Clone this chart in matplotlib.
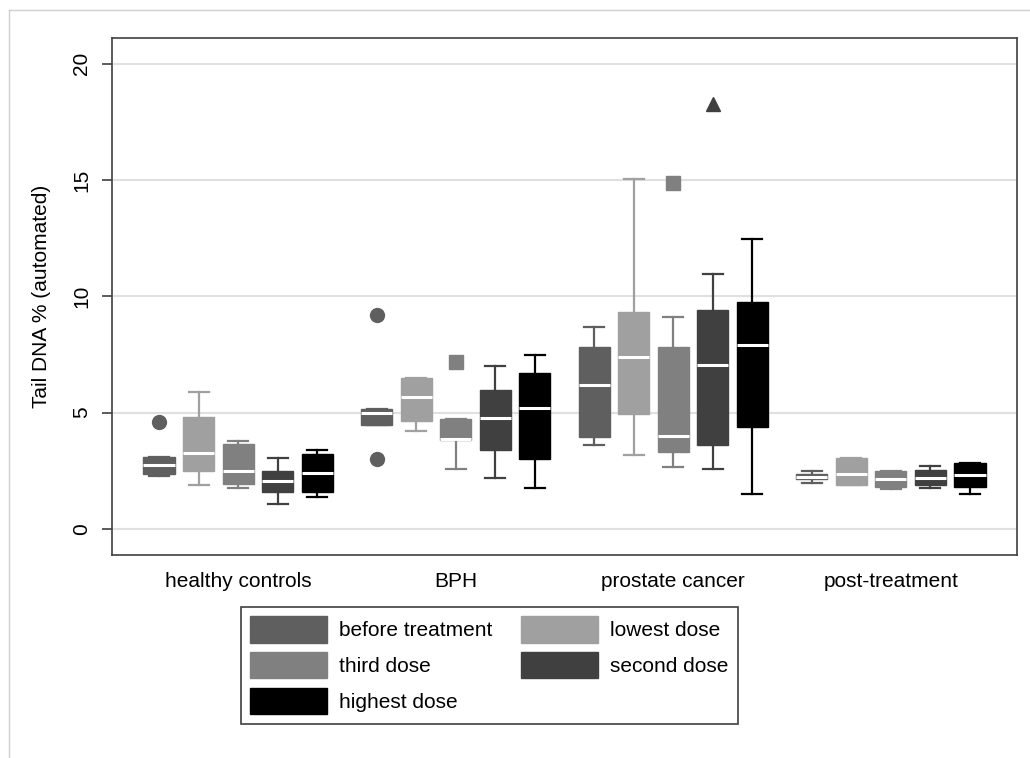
import matplotlib.pyplot as plt
from matplotlib.patches import Patch
from matplotlib.lines import Line2D

plt.rcParams['font.family'] = ['Liberation Sans', 'DejaVu Sans']

# groups on the x axis
groups = ["healthy controls", "BPH", "prostate cancer", "post-treatment"]

# series (dose) names, colours and outlier markers
series = ["before treatment", "lowest dose", "third dose", "second dose", "highest dose"]
colors = ["#5f5f5f", "#a0a0a0", "#808080", "#404040", "#000000"]
markers = ["o", "s", "s", "^", "o"]

# box statistics, one list per series (4 groups each)
before_q1 = [2.36, 4.47, 3.95, 2.13]
before_med = [2.73, 4.97, 6.17, 2.23]
before_q3 = [3.11, 5.16, 7.83, 2.35]
before_lo = [2.28, 4.47, 3.60, 1.99]
before_hi = [3.11, 5.16, 8.67, 2.48]
before_out = [[4.59], [9.21, 3.0], [], []]

lowest_q1 = [2.48, 4.64, 4.93, 1.89]
lowest_med = [3.25, 5.69, 7.41, 2.36]
lowest_q3 = [4.83, 6.48, 9.31, 3.04]
lowest_lo = [1.88, 4.20, 3.17, 1.89]
lowest_hi = [5.87, 6.48, 15.04, 3.04]
lowest_out = [[], [], [], []]

third_q1 = [1.95, 3.82, 3.31, 1.82]
third_med = [2.51, 3.85, 4.01, 2.13]
third_q3 = [3.65, 4.73, 7.83, 2.49]
third_lo = [1.78, 2.58, 2.68, 1.70]
third_hi = [3.77, 4.73, 9.10, 2.49]
third_out = [[], [7.19], [14.87], []]

second_q1 = [1.58, 3.39, 3.61, 1.89]
second_med = [2.08, 4.78, 7.03, 2.21]
second_q3 = [2.51, 5.97, 9.41, 2.54]
second_lo = [1.07, 2.21, 2.59, 1.78]
second_hi = [3.07, 7.00, 10.94, 2.71]
second_out = [[], [], [18.26], []]

highest_q1 = [1.58, 3.02, 4.38, 1.79]
highest_med = [2.39, 5.20, 7.89, 2.33]
highest_q3 = [3.22, 6.72, 9.74, 2.82]
highest_lo = [1.39, 1.78, 1.50, 1.50]
highest_hi = [3.38, 7.49, 12.45, 2.82]
highest_out = [[], [], [], []]

all_stats = [
    (before_q1, before_med, before_q3, before_lo, before_hi, before_out),
    (lowest_q1, lowest_med, lowest_q3, lowest_lo, lowest_hi, lowest_out),
    (third_q1, third_med, third_q3, third_lo, third_hi, third_out),
    (second_q1, second_med, second_q3, second_lo, second_hi, second_out),
    (highest_q1, highest_med, highest_q3, highest_lo, highest_hi, highest_out),
]

W, H = 1030, 758
FS = 15
fig = plt.figure(figsize=(W / 100, H / 100), dpi=100)
ax = fig.add_axes([112 / W, 1 - 555 / H, (1017 - 112) / W, (555 - 38) / H])

step = 0.182
bw = 0.143
for k, (q1, med, q3, lo, hi, out) in enumerate(all_stats):
    c = colors[k]
    stats = []
    for g in range(len(groups)):
        stats.append(dict(q1=q1[g], med=med[g], q3=q3[g], whislo=lo[g], whishi=hi[g], fliers=out[g]))
    pos = [g + (k - 2) * step for g in range(len(groups))]
    ax.bxp(stats, positions=pos, widths=bw, capwidths=0.092, patch_artist=True,
           manage_ticks=False,
           boxprops=dict(facecolor=c, edgecolor=c, linewidth=1),
           whiskerprops=dict(color=c, linewidth=1.6),
           capprops=dict(color=c, linewidth=1.6),
           medianprops=dict(color="white", linewidth=2.2),
           flierprops=dict(marker=markers[k], markerfacecolor=c, markeredgecolor=c, markersize=10))

ax.set_xlim(-0.58, 3.58)
ax.set_ylim(-1.12, 21.1)
ax.set_yticks([0, 5, 10, 15, 20])
ax.set_xticks(range(len(groups)))
ax.set_xticklabels(groups, fontsize=FS)
ax.tick_params(axis="x", length=0, pad=12)
ax.tick_params(axis="y", length=7, width=1.2, color="#404040", labelsize=FS, pad=8)
plt.setp(ax.get_yticklabels(), rotation=90, va="center")
ax.grid(axis="y", color="#e0e0e0", linewidth=1.5)
ax.set_axisbelow(True)
for s in ax.spines.values():
    s.set_color("#404040")
    s.set_linewidth(1.2)
ax.set_ylabel("Tail DNA % (automated)", fontsize=FS)
ax.yaxis.set_label_coords((51 - 112) / 905, 0.5)

# legend: row-major order like the original
order = [0, 2, 4, 1, 3]
handles = [Patch(facecolor=colors[i], edgecolor=colors[i]) for i in order]
labels = [series[i] for i in order]
leg = fig.legend(handles, labels, loc="upper left", bbox_to_anchor=(240.7 / W, 1 - 606.7 / H),
                 bbox_transform=fig.transFigure, borderaxespad=0, ncol=2, fontsize=FS,
                 handlelength=3.7, handleheight=1.58, handletextpad=0.56, columnspacing=1.4,
                 labelspacing=0.45, borderpad=0.45, fancybox=False, framealpha=1)
leg.get_frame().set_edgecolor("#404040")
leg.get_frame().set_linewidth(1.2)

# thin grey frame of the original image (left and top)
fig.add_artist(Line2D([8.5 / W, 8.5 / W], [0, 1 - 10 / H], transform=fig.transFigure, color="#d0d0d0", lw=1))
fig.add_artist(Line2D([8.5 / W, 1], [1 - 10 / H, 1 - 10 / H], transform=fig.transFigure, color="#d0d0d0", lw=1))

fig.savefig("out.png", dpi=100)
